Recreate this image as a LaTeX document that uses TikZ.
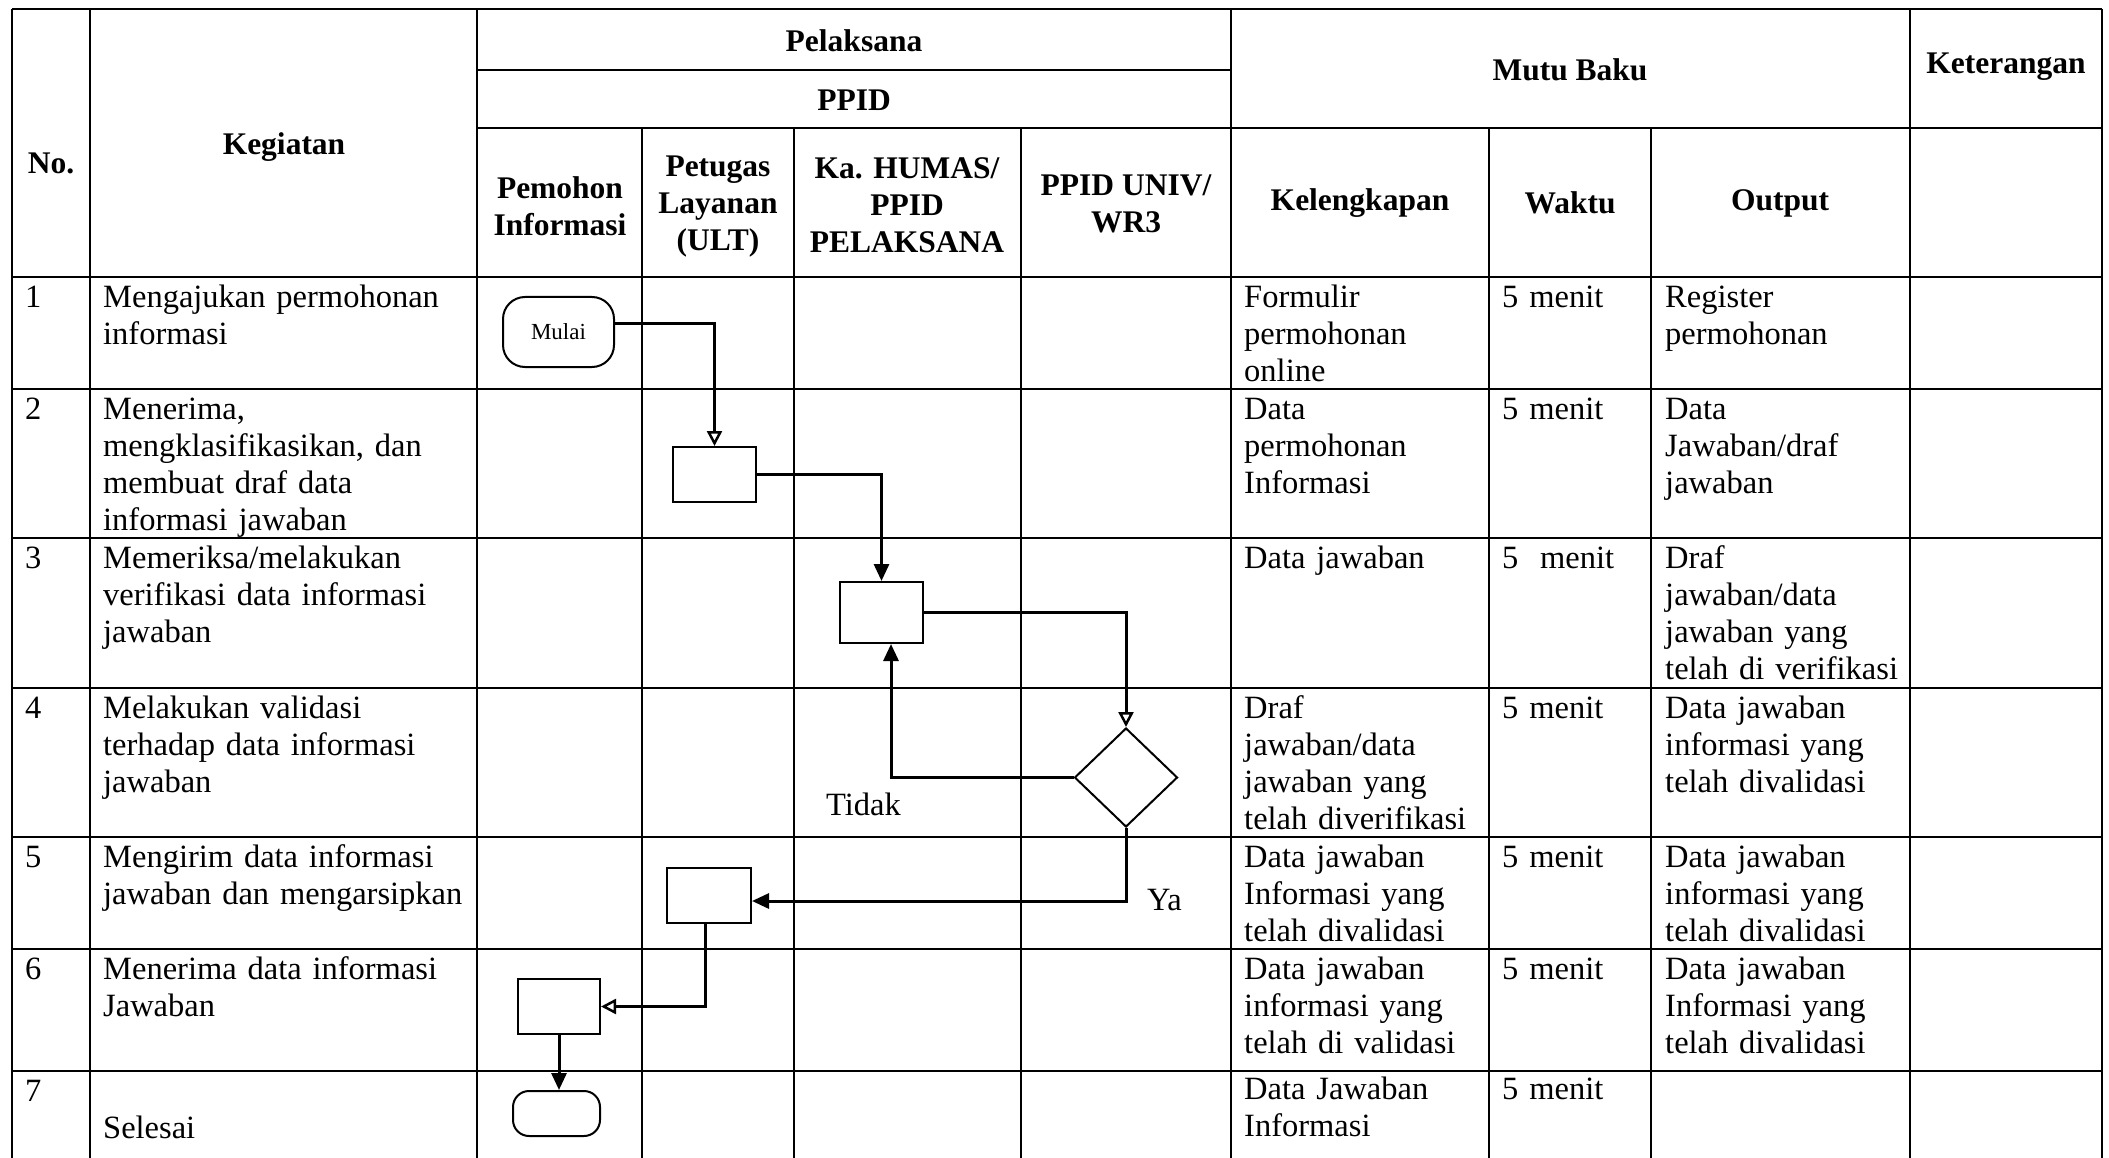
\documentclass[tikz,border=0pt]{standalone}
\usepackage{fontspec}
\setmainfont{Liberation Serif}
\usetikzlibrary{shapes.geometric,arrows.meta}
\tikzset{
  tbl/.style={line width=2pt, black},
  hdr/.style={font=\bfseries\fontsize{31.5}{37}\selectfont, align=center, inner sep=0pt},
  body/.style={font=\fontsize{32.5}{37}\selectfont, anchor=base west, inner sep=0pt, text width=420pt, align=left},
  procbox/.style={draw, line width=2pt, minimum width=83pt, minimum height=55pt, inner sep=0pt},
  term/.style={draw, line width=2pt, rounded corners=22pt, inner sep=0pt},
  decbox/.style={draw, line width=2pt, shape=diamond, minimum width=103pt, minimum height=99pt, inner sep=0pt},
  flow/.style={line width=3pt, -{Triangle[length=17pt,width=15pt]}},
  flowopen/.style={line width=3pt, -{Triangle[open,length=15pt,width=15pt,line width=2.5pt]}},
  lbl/.style={font=\fontsize{32.5}{37}\selectfont, anchor=base west, inner sep=0pt}
}
\begin{document}
\begin{tikzpicture}[x=1pt,y=-1pt]
\useasboundingbox (0,0) rectangle (2109,1158);
\fill[white] (0,0) rectangle (2109,1158);
% ---- table grid ----
\draw[tbl] (12,9) -- (2102,9);
\draw[tbl] (477,70) -- (1231,70);
\draw[tbl] (477,128) -- (2102,128);
\draw[tbl] (12,277) -- (2102,277);
\foreach \yy in {389,538,688,837,949,1071} \draw[tbl] (12,\yy) -- (2102,\yy);
\foreach \xx in {12,90,477,1231,1910,2102} \draw[tbl] (\xx,9) -- (\xx,1158);
\foreach \xx in {642,794,1021,1489,1651} \draw[tbl] (\xx,128) -- (\xx,1158);
% ---- headers ----
\node[hdr] (hno) at (51,163) {No.};
\node[hdr] (hkeg) at (284,147) {Kegiatan};
\node[hdr] (hpel) at (854,41) {Pelaksana};
\node[hdr] (hppid) at (854,100) {PPID};
\node[hdr] (hpem) at (560,206) {Pemohon\\Informasi};
\node[hdr] (hpet) at (718,207) {Petugas\\Layanan\\(ULT)};
\node[hdr] (hka) at (907,205) {Ka. HUMAS/\\PPID\\PELAKSANA};
\node[hdr] (huniv) at (1126,204) {PPID UNIV/\\WR3};
\node[hdr] (hmutu) at (1570,70) {Mutu Baku};
\node[hdr] (hket) at (2006,67) {Keterangan};
\node[hdr] (hkel) at (1360,203) {Kelengkapan};
\node[hdr] (hwak) at (1570,203) {Waktu};
\node[hdr] (hout) at (1780,203) {Output};
% ---- numbers ----
\node[body] (n1) at (25,307) {1};
\node[body] (n2) at (25,419) {2};
\node[body] (n3) at (25,568) {3};
\node[body] (n4) at (25,718) {4};
\node[body] (n5) at (25,867) {5};
\node[body] (n6) at (25,979) {6};
\node[body] (n7) at (25,1101) {7};
% ---- kegiatan ----
\node[body] (k1) at (103,307) {Mengajukan permohonan\\informasi};
\node[body] (k2) at (103,419) {Menerima,\\mengklasifikasikan, dan\\membuat draf data\\informasi jawaban};
\node[body] (k3) at (103,568) {Memeriksa/melakukan\\verifikasi data informasi\\jawaban};
\node[body] (k4) at (103,718) {Melakukan validasi\\terhadap data informasi\\jawaban};
\node[body] (k5) at (103,867) {Mengirim data informasi\\jawaban dan mengarsipkan};
\node[body] (k6) at (103,979) {Menerima data informasi\\Jawaban};
\node[body] (k7) at (103,1138) {Selesai};
% ---- kelengkapan ----
\node[body] (l1) at (1244,307) {Formulir\\permohonan\\online};
\node[body] (l2) at (1244,419) {Data\\permohonan\\Informasi};
\node[body] (l3) at (1244,568) {Data jawaban};
\node[body] (l4) at (1244,718) {Draf\\jawaban/data\\jawaban yang\\telah diverifikasi};
\node[body] (l5) at (1244,867) {Data jawaban\\Informasi yang\\telah divalidasi};
\node[body] (l6) at (1244,979) {Data jawaban\\informasi yang\\telah di validasi};
\node[body] (l7) at (1244,1099) {Data Jawaban\\Informasi};
% ---- waktu ----
\node[body] (w1) at (1502,307) {5 menit};
\node[body] (w2) at (1502,419) {5 menit};
\node[body] (w3) at (1502,568) {5\ \ menit};
\node[body] (w4) at (1502,718) {5 menit};
\node[body] (w5) at (1502,867) {5 menit};
\node[body] (w6) at (1502,979) {5 menit};
\node[body] (w7) at (1502,1099) {5 menit};
% ---- output ----
\node[body] (o1) at (1665,307) {Register\\permohonan};
\node[body] (o2) at (1665,419) {Data\\Jawaban/draf\\jawaban};
\node[body] (o3) at (1665,568) {Draf\\jawaban/data\\jawaban yang\\telah di verifikasi};
\node[body] (o4) at (1665,718) {Data jawaban\\informasi yang\\telah divalidasi};
\node[body] (o5) at (1665,867) {Data jawaban\\informasi yang\\telah divalidasi};
\node[body] (o6) at (1665,979) {Data jawaban\\Informasi yang\\telah divalidasi};
% ---- flowchart ----
\node[term, minimum width=111pt, minimum height=70pt, font=\fontsize{23}{26}\selectfont] (mulai) at (558.5,332) {Mulai};
\node[procbox] (b2) at (714.5,474.5) {};
\node[procbox, minimum height=61pt] (b3) at (881.5,612.5) {};
\node[decbox] (dec) at (1126,777.5) {};
\node[procbox, minimum width=84pt] (b5) at (709,895) {};
\node[procbox, minimum width=82pt] (b6) at (559,1006.5) {};
\node[term, minimum width=87pt, minimum height=45pt, rounded corners=16pt] (selesai) at (556.5,1113.5) {};
\node[lbl] (tidak) at (826,815) {Tidak};
\node[lbl] (ya) at (1147,910) {Ya};
\draw[flowopen] ([yshift=9pt]mulai.east) -| (b2.north);
\draw[flow] (b2.east) -| (b3.north);
\draw[flowopen] (b3.east) -| (dec.north);
\draw[flow] (dec.west) -| ([xshift=9.5pt]b3.south);
\draw[flow] (dec.south) |- ([yshift=-6pt]b5.east);
\draw[flowopen] ([xshift=-4pt]b5.south) |- (b6.east);
\draw[flow] (b6.south) -- (b6.south |- selesai.north);
\end{tikzpicture}
\end{document}
